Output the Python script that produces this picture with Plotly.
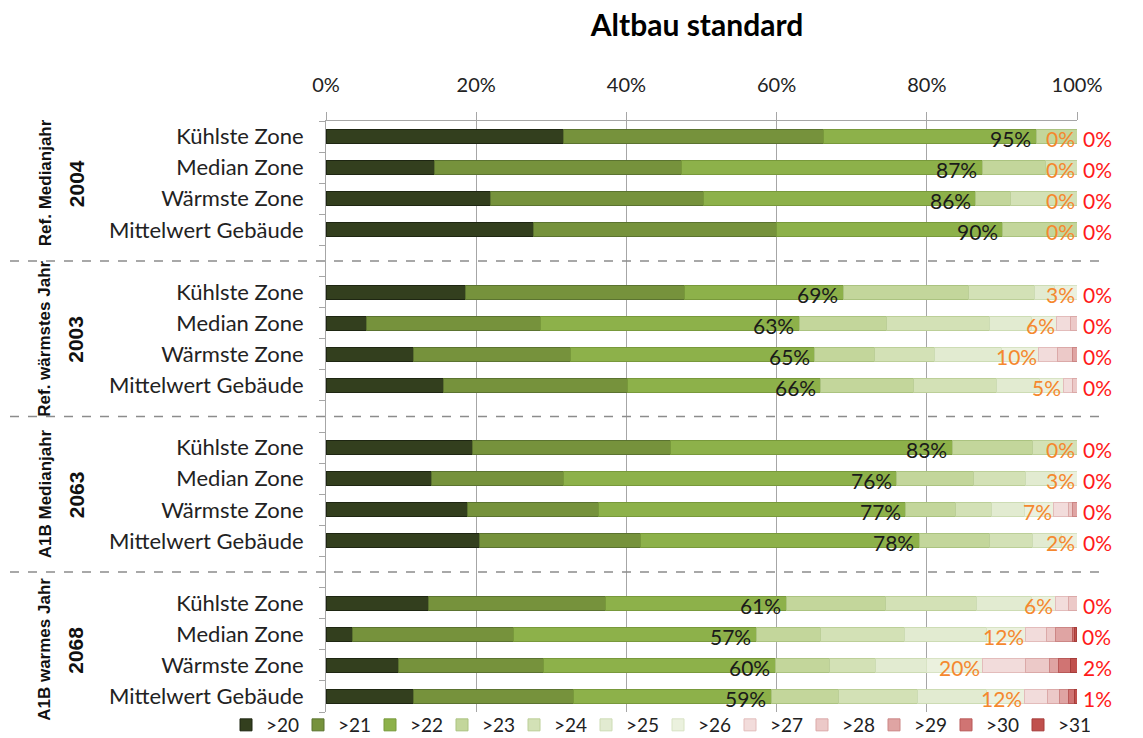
import plotly.graph_objects as go

# ---------------- data ----------------
groups = ["2004", "2003", "2063", "2068"]
group_names = ["Ref. Medianjahr", "Ref. wärmstes Jahr", "A1B Medianjahr", "A1B warmes Jahr"]
zones = ["Kühlste Zone", "Median Zone", "Wärmste Zone", "Mittelwert Gebäude"]
classes = [">20", ">21", ">22", ">23", ">24", ">25", ">26", ">27", ">28", ">29", ">30", ">31"]

# share of hours per class (%), 16 rows: 4 groups x 4 zones (top to bottom)
gt20 = [31.6, 14.4, 21.9, 27.6, 18.6, 5.4, 11.6, 15.7, 19.5, 14.0, 18.8, 20.5, 13.7, 3.5, 9.6, 11.6]
gt21 = [34.7, 32.9, 28.3, 32.4, 29.2, 23.2, 20.9, 24.4, 26.4, 17.6, 17.5, 21.4, 23.5, 21.5, 19.4, 21.4]
gt22 = [28.3, 40.1, 36.3, 30.1, 21.1, 34.4, 32.6, 25.8, 37.5, 44.4, 40.9, 37.1, 24.1, 32.3, 30.8, 26.3]
gt23 = [5.4, 8.4, 4.6, 9.9, 16.7, 11.6, 7.9, 12.3, 10.7, 10.2, 6.6, 9.4, 13.2, 8.6, 7.2, 9.0]
gt24 = [0, 4.2, 8.9, 0, 8.8, 13.7, 8.0, 11.1, 5.9, 6.9, 4.8, 5.7, 12.1, 11.1, 6.2, 10.4]
gt25 = [0, 0, 0, 0, 2.6, 5.7, 9.0, 5.7, 0, 3.9, 4.4, 3.9, 7.4, 11.0, 6.8, 9.3]
gt26 = [0, 0, 0, 0, 3.0, 3.3, 4.9, 3.2, 0, 3.0, 3.9, 2.0, 3.1, 5.2, 7.4, 5.0]
gt27 = [0, 0, 0, 0, 0, 1.8, 2.5, 1.2, 0, 0, 2.0, 0, 1.8, 2.8, 5.8, 3.1]
gt28 = [0, 0, 0, 0, 0, 0.9, 2.0, 0.6, 0, 0, 0.5, 0, 1.1, 1.1, 3.1, 1.6]
gt29 = [0, 0, 0, 0, 0, 0, 0.6, 0, 0, 0, 0.6, 0, 0, 2.3, 1.3, 1.2]
gt30 = [0, 0, 0, 0, 0, 0, 0, 0, 0, 0, 0, 0, 0, 0.3, 1.5, 0.7]
gt31 = [0, 0, 0, 0, 0, 0, 0, 0, 0, 0, 0, 0, 0, 0.2, 0.9, 0.4]

label_black = ["95%", "87%", "86%", "90%", "69%", "63%", "65%", "66%",
               "83%", "76%", "77%", "78%", "61%", "57%", "60%", "59%"]
label_orange = ["0%", "0%", "0%", "0%", "3%", "6%", "10%", "5%",
                "0%", "3%", "7%", "2%", "6%", "12%", "20%", "12%"]
label_red = ["0%", "0%", "0%", "0%", "0%", "0%", "0%", "0%",
             "0%", "0%", "0%", "0%", "0%", "0%", "2%", "1%"]

series = [gt20, gt21, gt22, gt23, gt24, gt25, gt26, gt27, gt28, gt29, gt30, gt31]
colors = ["#333f1e", "#76923c", "#8db14a", "#c3d69b", "#d3e1b6", "#e2ebd1", "#ebf1de",
          "#f2dcdb", "#ecc9c8", "#dfa4a3", "#d07473", "#c0504d"]
borders = ["#1e2612", "#5b7330", "#78993b", "#abc380", "#bccf98", "#cddcb4", "#d8e3c4",
           "#e3bcbb", "#dba9a8", "#cc8685", "#b95958", "#a63d3a"]

FONT = "Lato"

# y positions: one blank slot between groups
ypos = [g * 5 + z for g in range(len(groups)) for z in range(len(zones))]
yticktext = [zones[z] for g in range(len(groups)) for z in range(len(zones))]

fig = go.Figure()
for name, vals, col, bcol in zip(classes, series, colors, borders):
    fig.add_trace(go.Bar(
        y=ypos, x=vals, orientation="h", name=name,
        marker=dict(color=col, line=dict(color=bcol, width=1)),
        hoverinfo="x+name",
    ))

annotations = []
for i, y in enumerate(ypos):
    cum3 = sum(s[i] for s in series[:3])
    cum7 = sum(s[i] for s in series[:7])
    tot = sum(s[i] for s in series)
    annotations.append(dict(x=cum3, y=y, xref="x", yref="y", text=label_black[i],
                            showarrow=False, xanchor="right", xshift=-3, yshift=-2,
                            font=dict(family=FONT, size=21, color="#1a1a1a")))
    annotations.append(dict(x=cum7, y=y, xref="x", yref="y", text=label_orange[i],
                            showarrow=False, xanchor="right", xshift=0, yshift=-2,
                            font=dict(family=FONT, size=21, color="#f5882e")))
    annotations.append(dict(x=tot, y=y, xref="x", yref="y", text=label_red[i],
                            showarrow=False, xanchor="left", xshift=4, yshift=-2,
                            font=dict(family=FONT, size=21, color="#ff1a1a")))

W, H = 1143, 738
L, R, T, B = 326, 66, 121, 26
pw = W - L - R
ph = H - T - B

def px2paper(px):
    return (px - L) / pw

def py2paper(py):
    return (H - B - py) / ph

for g in range(len(groups)):
    yc = g * 5 + 1.5
    annotations.append(dict(x=px2paper(45), y=yc, xref="paper", yref="y",
                            text="<b>%s</b>" % group_names[g],
                            textangle=-90, showarrow=False, xanchor="center", yanchor="middle",
                            font=dict(family="Liberation Sans", size=17, color="#111")))
    annotations.append(dict(x=px2paper(76), y=yc, xref="paper", yref="y",
                            text="<b>%s</b>" % groups[g],
                            textangle=-90, showarrow=False, xanchor="center", yanchor="middle",
                            font=dict(family="Liberation Sans", size=21, color="#111")))

shapes = []
for g in range(1, len(groups)):
    ysep = g * 5 - 1
    shapes.append(dict(type="line", xref="paper", yref="y", x0=px2paper(10), x1=px2paper(1100),
                       y0=ysep, y1=ysep, line=dict(color="#8c8c8c", width=1.5, dash="dash")))

fig.update_layout(
    width=W, height=H,
    margin=dict(l=L, r=R, t=T, b=B, autoexpand=False),
    barmode="stack", bargap=0.55,
    plot_bgcolor="white", paper_bgcolor="white",
    font=dict(family=FONT, size=18, color="#222"),
    title=dict(text="<b>Altbau standard</b>", x=697 / W, xref="container",
               xanchor="center", y=1 - 25 / H, yanchor="middle",
               font=dict(family=FONT, size=30, color="#000")),
    xaxis=dict(side="top", range=[0, 100], tickvals=[0, 20, 40, 60, 80, 100],
               ticktext=["0%", "20%", "40%", "60%", "80%", "100%"],
               showgrid=True, gridcolor="#a6a6a6", gridwidth=1,
               ticks="outside", ticklen=8, tickcolor="#a6a6a6",
               showline=True, linecolor="#a6a6a6", linewidth=1,
               zeroline=False, ticklabelstandoff=12,
               tickfont=dict(family=FONT, size=20, color="#222")),
    yaxis=dict(range=[18.5, -0.5], tickvals=ypos, ticktext=yticktext,
               ticks="", showgrid=False, zeroline=False,
               showline=True, linecolor="#a6a6a6", linewidth=1,
               minor=dict(tickvals=[k - 0.5 for k in range(20)], ticks="outside",
                          ticklen=6, tickcolor="#a6a6a6", showgrid=False),
               ticklabelstandoff=17,
               tickfont=dict(family=FONT, size=22, color="#222")),
    legend=dict(orientation="h", x=px2paper(226), xanchor="left",
                y=py2paper(725), yanchor="middle",
                itemwidth=30, entrywidth=27, entrywidthmode="pixels",
                font=dict(family=FONT, size=19, color="#222"),
                traceorder="normal", bgcolor="rgba(0,0,0,0)"),
    annotations=annotations,
    shapes=shapes,
    showlegend=True,
)

fig.write_html("out.html", config={"displayModeBar": False},
               post_script="document.body.style.margin='0';document.body.style.overflow='hidden';")
